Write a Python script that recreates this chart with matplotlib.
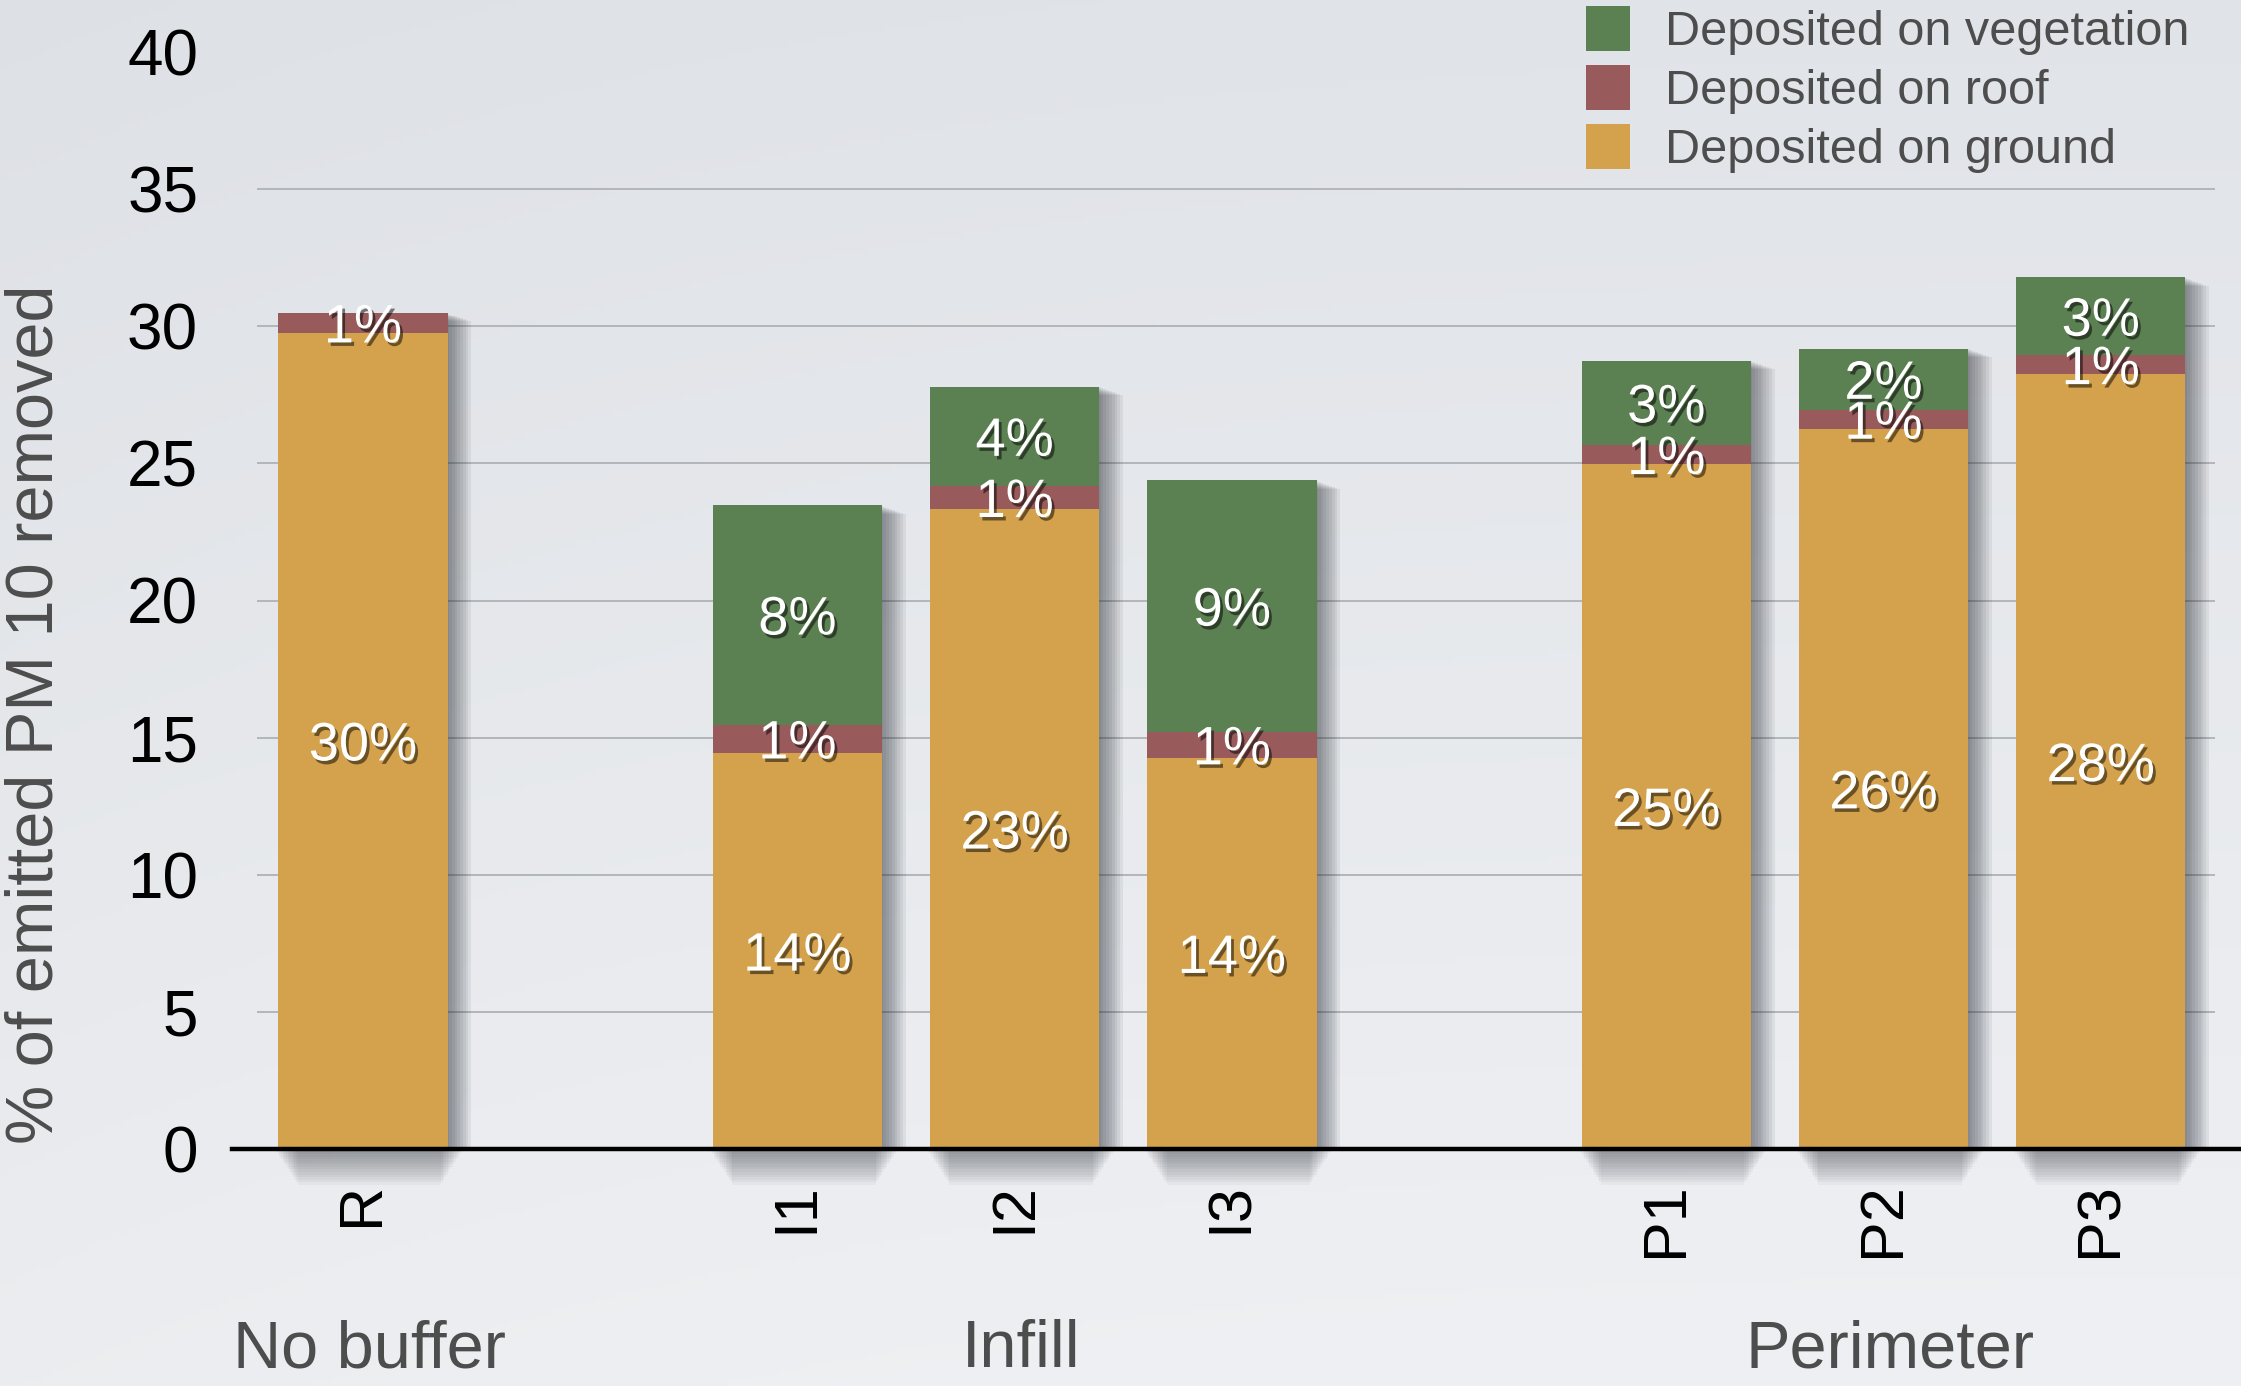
import numpy as np
import matplotlib
matplotlib.use("Agg")
import matplotlib.pyplot as plt
import matplotlib.patheffects as pe
from matplotlib.patches import Patch

# ---- data -------------------------------------------------------------
scenarios = ["R", "I1", "I2", "I3", "P1", "P2", "P3"]
scenario_group = ["No buffer", "Infill", "Infill", "Infill",
                  "Perimeter", "Perimeter", "Perimeter"]
groups = ["No buffer", "Infill", "Perimeter"]

ground = [29.76, 14.43, 23.33, 14.26, 24.98, 26.26, 28.25]
roof = [0.72, 1.04, 0.85, 0.95, 0.68, 0.70, 0.70]
vegetation = [0.00, 8.00, 3.61, 9.17, 3.09, 2.21, 2.83]

series_names = ["Deposited on vegetation", "Deposited on roof", "Deposited on ground"]
yticks = [0, 5, 10, 15, 20, 25, 30, 35, 40]

# ---- style ------------------------------------------------------------
C_GROUND = "#d4a24c"
C_ROOF = "#985a5a"
C_VEG = "#5b8052"
FONT = ["Liberation Sans", "DejaVu Sans"]
plt.rcParams["font.family"] = FONT

W, H, DPI = 2241, 1386, 100
fig = plt.figure(figsize=(W / DPI, H / DPI), dpi=DPI)

# soft paper-like background
bg = fig.add_axes([0, 0, 1, 1], zorder=-10)
yy = np.linspace(0, 1, 256)[:, None]
xx = np.linspace(0, 1, 256)[None, :]
top = np.array([0.880, 0.892, 0.910])
bot = np.array([0.935, 0.941, 0.952])
grad = top[None, None, :] * (1 - yy[..., None]) + bot[None, None, :] * yy[..., None]
grad = grad - 0.012 * (1 - xx[..., None]) ** 3
bg.imshow(grad, aspect="auto", extent=[0, 1, 0, 1], origin="upper")
bg.axis("off")

# positions: one empty slot between groups
x = []
pos = 0
for i, g in enumerate(scenario_group):
    if i > 0 and g != scenario_group[i - 1]:
        pos += 1
    x.append(pos)
    pos += 1
x = np.array(x, dtype=float)

ax_left = 231.5 / W
ax_bottom = (H - 1149) / H
ax_top = (H - 52) / H
ax = fig.add_axes([ax_left, ax_bottom, 1 - ax_left, ax_top - ax_bottom])
ax.set_facecolor("none")
ax.set_xlim(-0.605, 8.646)
ax.set_ylim(0, 40)

g_arr = np.array(ground)
r_arr = np.array(roof)
v_arr = np.array(vegetation)
total = g_arr + r_arr + v_arr

# gridlines (no line at the top value)
ax.hlines(yticks[1:-1], -0.488, 8.527, color="#b2b5ba", lw=1.4, zorder=1)

width = 0.78
# soft drop shadow to the right of each full stack
shadow = [pe.SimplePatchShadow(offset=(k, -0.35 * k), shadow_rgbFace="#2c3038",
                               alpha=0.075) for k in range(1, 19, 2)]
ax.bar(x, total, width, color="#7a7e86", zorder=2, path_effects=shadow, linewidth=0)

ax.bar(x, g_arr, width, color=C_GROUND, zorder=3, linewidth=0)
ax.bar(x, r_arr, width, bottom=g_arr, color=C_ROOF, zorder=3, linewidth=0)
ax.bar(x, v_arr, width, bottom=g_arr + r_arr, color=C_VEG, zorder=3, linewidth=0)

# blurred shadow cast below the baseline
n_layers = 14
for d, w_extra in zip(np.linspace(0.1, 1.3, n_layers), np.linspace(0.08, -0.12, n_layers)):
    ax.bar(x + 0.03, -d, width + w_extra, color="#2c3038", alpha=0.04,
           zorder=2, linewidth=0, clip_on=False)

# value labels
txt_fx = [pe.SimplePatchShadow(offset=(2, -2.5), shadow_rgbFace="black", alpha=0.5),
          pe.Normal()]
for xi, gv, rv, vv in zip(x, g_arr, r_arr, v_arr):
    segs = [(0, gv), (gv, rv), (gv + rv, vv)]
    for base, val in segs:
        if val <= 0:
            continue
        ax.text(xi, base + val / 2 - 0.2, f"{round(val)}%", ha="center", va="center",
                color="white", fontsize=39, zorder=5, path_effects=txt_fx)

# zero baseline
ax.axhline(0, color="black", lw=3.2, zorder=4, clip_on=False)

for s in ax.spines.values():
    s.set_visible(False)

ax.set_yticks(yticks)
ax.set_yticklabels([str(t) for t in yticks], fontsize=46, color="black")
ax.tick_params(axis="y", length=0, pad=24)
ax.set_xticks(x)
ax.set_xticklabels(scenarios, rotation=90, fontsize=44, color="black", va="top")
ax.tick_params(axis="x", length=0, pad=24)

# group captions under the scenarios
cap_y = -(1350 - 1149) / (1149 - 52)
for g in groups:
    gx = np.mean([xi for xi, sg in zip(x, scenario_group) if sg == g])
    ax.text(gx + 0.03, cap_y, g, transform=ax.get_xaxis_transform(), ha="center",
            va="center", fontsize=48, color="#4d4d4d")

fig.text(36 / W, 1 - 714 / H, "% of emitted PM 10 removed", rotation=90,
         ha="center", va="center", fontsize=48, color="#4d4d4d")

handles = [Patch(facecolor=C_VEG), Patch(facecolor=C_ROOF), Patch(facecolor=C_GROUND)]
fig.legend(handles, series_names, loc="upper left",
           bbox_to_anchor=(1586 / W, 1 - 6 / H), frameon=False, fontsize=35,
           labelcolor="#4d4d4d", handlelength=0.9, handleheight=1.05,
           handletextpad=0.72, labelspacing=0.2, borderpad=0.0, borderaxespad=0.0)

fig.savefig("out.png", dpi=DPI)
